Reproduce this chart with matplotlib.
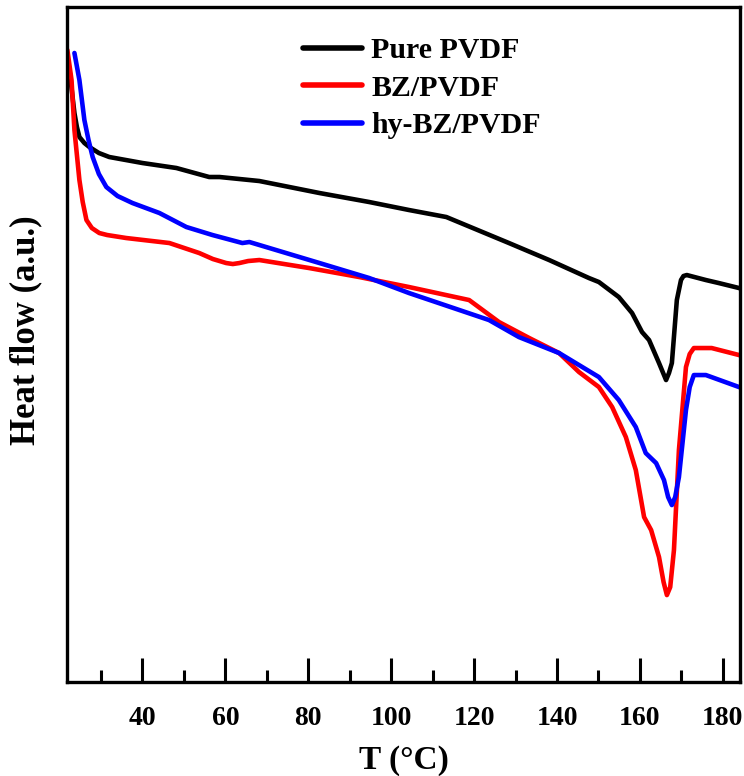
import numpy as np
import matplotlib
matplotlib.use("Agg")
import matplotlib.pyplot as plt
from matplotlib.ticker import MultipleLocator

plt.rcParams['font.family'] = ['Liberation Serif', 'DejaVu Serif']
plt.rcParams['font.weight'] = 'bold'

# DSC heat flow curves (arbitrary units)
t_pure = [22.4, 23.6, 24.2, 24.8, 26.0, 27.2, 29.5, 32.0, 40.0, 48.2, 56.1, 58.6,
          68.2, 82.7, 94.7, 104.3, 113.3, 128.4, 138.1, 147.7, 150.1, 154.9,
          158.1, 160.5, 162.2, 164.6, 165.6, 166.3, 167.0, 167.7, 168.9, 169.9,
          170.5, 171.3, 175.9, 179.0, 183.9, 184.5]
hf_pure = [6.12, 5.69, 5.55, 5.45, 5.39, 5.35, 5.29, 5.25, 5.19, 5.14, 5.05, 5.05,
           5.01, 4.89, 4.80, 4.72, 4.65, 4.39, 4.22, 4.04, 4.00, 3.85,
           3.69, 3.50, 3.42, 3.19, 3.09, 3.02, 3.09, 3.19, 3.82, 4.02,
           4.06, 4.07, 4.02, 3.99, 3.94, 3.93]

t_bz = [21.9, 22.9, 23.6, 24.8, 25.6, 26.5, 27.8, 29.6, 31.5, 36.1, 46.5, 53.7,
        57.0, 60.2, 61.8, 63.4, 65.5, 68.2, 80.2, 92.3, 104.3, 118.8, 126.0,
        133.3, 140.5, 145.3, 150.1, 153.3, 156.6, 159.0, 161.0, 162.7, 164.6,
        165.7, 166.5, 167.3, 168.2, 169.4, 171.1, 172.0, 173.0, 177.3, 183.9,
        184.5]
hf_bz = [6.32, 6.02, 5.52, 5.02, 4.80, 4.62, 4.54, 4.49, 4.47, 4.44, 4.39, 4.29,
         4.23, 4.19, 4.18, 4.19, 4.21, 4.22, 4.14, 4.05, 3.95, 3.82, 3.60,
         3.44, 3.29, 3.10, 2.95, 2.75, 2.45, 2.12, 1.65, 1.52, 1.25,
         1.00, 0.87, 0.95, 1.32, 2.32, 3.15, 3.28, 3.34, 3.34, 3.27,
         3.26]

t_hy = [23.6, 24.8, 26.0, 27.0, 28.0, 29.5, 31.3, 34.0, 37.6, 44.1, 50.6, 56.9,
        64.1, 65.8, 82.7, 94.7, 104.3, 123.6, 130.8, 140.5, 145.3, 150.1,
        154.9, 159.0, 161.4, 163.9, 165.8, 166.8, 167.7, 168.5, 169.4, 171.1,
        172.0, 173.0, 175.9, 183.9, 184.5]
hf_hy = [6.29, 6.02, 5.62, 5.42, 5.25, 5.08, 4.95, 4.86, 4.79, 4.69, 4.55, 4.47,
         4.39, 4.40, 4.19, 4.04, 3.89, 3.62, 3.45, 3.29, 3.17, 3.05,
         2.82, 2.55, 2.29, 2.19, 2.02, 1.85, 1.77, 1.85, 2.05, 2.72,
         2.95, 3.07, 3.07, 2.95, 2.94]

labels = ['Pure PVDF', 'BZ/PVDF', 'hy-BZ/PVDF']
colors = ['black', '#ff0000', '#0000ff']

fig = plt.figure(figsize=(7.44, 7.76), dpi=100)
ax = fig.add_axes([0.090, 0.121, 0.905, 0.870])

series = [(t_pure, hf_pure), (t_bz, hf_bz), (t_hy, hf_hy)]
for (t, hf), lab, c in zip(series, labels, colors):
    ax.plot(t, hf, color=c, lw=3.3, label=lab, solid_joinstyle='round',
            solid_capstyle='round')

ax.set_xlim(21.8, 184.2)
ax.set_ylim(0, 6.75)
ax.xaxis.set_major_locator(MultipleLocator(20))
ax.xaxis.set_minor_locator(MultipleLocator(10))
ax.set_xticks(np.arange(40, 181, 20))
ax.set_yticks([])
ax.tick_params(axis='x', which='major', direction='in', length=17, width=2.2,
               pad=17, labelsize=20)
ax.tick_params(axis='x', which='minor', direction='in', length=9, width=2.2)
for sp in ax.spines.values():
    sp.set_linewidth(2.4)

ax.set_xlabel('T (\u00b0C)', fontsize=24, fontweight='bold', labelpad=10)
ax.set_ylabel('Heat flow (a.u.)', fontsize=25, fontweight='bold')
ax.yaxis.set_label_coords(-0.037, 0.522)

leg = ax.legend(loc='upper left', bbox_to_anchor=(0.35, 0.955), frameon=False,
                fontsize=21.5, handlelength=2.0, handletextpad=0.3,
                labelspacing=0.35, borderpad=0, borderaxespad=0)
for line in leg.get_lines():
    line.set_linewidth(4)

fig.savefig('out.png', dpi=100)
